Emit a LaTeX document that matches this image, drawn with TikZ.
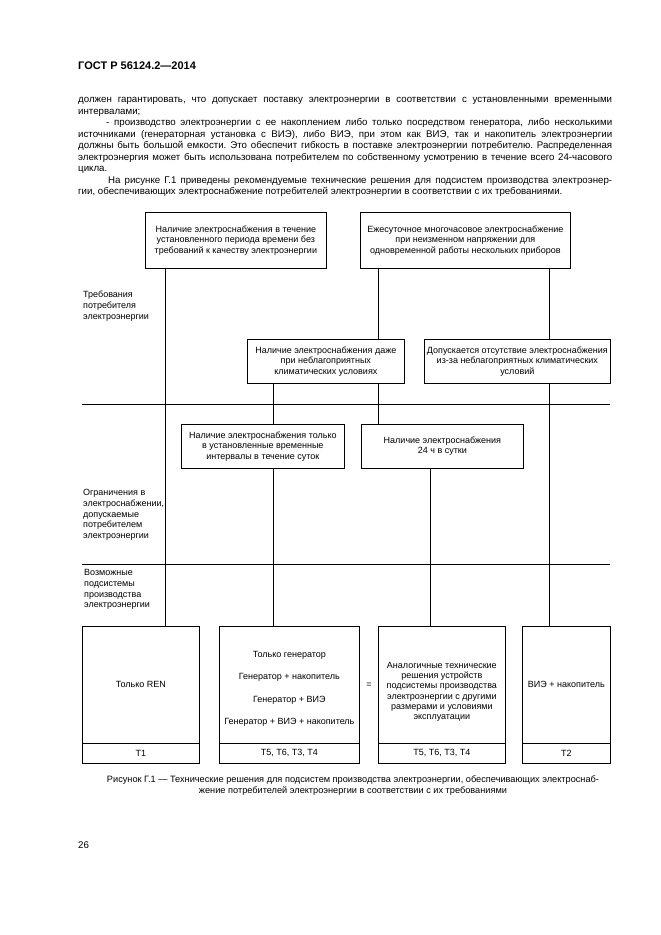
\documentclass[tikz,border=0pt]{standalone}
\usepackage{fontspec}
\setmainfont{Liberation Sans}
\newcommand\jl[1]{\hbox to 534pt{\frenchspacing\spaceskip=0.278em plus 1fil\relax #1}}
\newcommand\nl[1]{\hbox{#1}}
\begin{document}
\begin{tikzpicture}[x=1pt,y=-1pt,
  box/.style={draw, line width=0.7pt, fill=white, align=center, inner sep=0pt,
    font=\fontsize{9}{10.3}\selectfont},
  conn/.style={draw, line width=0.7pt},
  lbl/.style={anchor=north west, align=left, inner sep=0pt, font=\fontsize{9}{10.8}\selectfont}]
\useasboundingbox (0,0) rectangle (661,935);

% header and body text
\node[anchor=west, inner sep=0pt, font=\bfseries\fontsize{11}{12}\selectfont] (hdr) at (78,66) {ГОСТ Р 56124.2—2014};
\node[anchor=north west, inner sep=0pt, font=\fontsize{9.7}{11.45}\selectfont] (body) at (78,97.5) {\vbox{%
\jl{должен гарантировать, что допускает поставку электроэнергии в соответствии с установленными временными}
\nl{интервалами;}
\jl{\hspace{28pt}- производство электроэнергии с ее накоплением либо только посредством генератора, либо несколькими}
\jl{источниками (генераторная установка с ВИЭ), либо ВИЭ, при этом как ВИЭ, так и накопитель электроэнергии}
\jl{должны быть большой емкости. Это обеспечит гибкость в поставке электроэнергии потребителю. Распределенная}
\jl{электроэнергия может быть использована потребителем по собственному усмотрению в течение всего 24-часового}
\nl{цикла.}
\jl{\hspace{30pt}На рисунке Г.1 приведены рекомендуемые технические решения для подсистем производства электроэнер-}
\nl{гии, обеспечивающих электроснабжение потребителей электроэнергии в соответствии с их требованиями.}}};

% column x positions
\coordinate (c1) at (165,0);
\coordinate (c2) at (273,0);
\coordinate (c3) at (378,0);
\coordinate (c4) at (430,0);
\coordinate (c5) at (549,0);

% separators
\coordinate (h1a) at (82,404); \coordinate (h1b) at (610,404);
\coordinate (h2a) at (82,564); \coordinate (h2b) at (610,564);

% boxes
\node[box, anchor=north west, minimum width=181, minimum height=56] (b1) at (145,212)
  {Наличие электроснабжения в течение\\установленного периода времени без\\требований к качеству электроэнергии};
\node[box, anchor=north west, minimum width=210, minimum height=56] (b2) at (360,212)
  {Ежесуточное многочасовое электроснабжение\\при неизменном напряжении для\\одновременной работы нескольких приборов};
\node[box, anchor=north west, minimum width=157, minimum height=44] (b3) at (247,339)
  {Наличие электроснабжения даже\\при неблагоприятных\\климатических условиях};
\node[box, anchor=north west, minimum width=186, minimum height=44] (b4) at (424,339)
  {Допускается отсутствие электроснабжения\\из-за неблагоприятных климатических\\условий};
\node[box, anchor=north west, minimum width=163, minimum height=44] (b5) at (181,424)
  {Наличие электроснабжения только\\в установленные временные\\интервалы в течение суток};
\node[box, anchor=north west, minimum width=162, minimum height=44] (b6) at (361,424)
  {Наличие электроснабжения\\24 ч в сутки};

% bottom boxes
\node[box, anchor=north west, minimum width=117, minimum height=117] (bA) at (82,626) {Только REN};
\node[box, anchor=north west, minimum width=117, minimum height=20] (tA) at (82,743) {Т1};
\node[box, anchor=north west, minimum width=140, minimum height=117, font=\fontsize{9}{22.3}\selectfont] (bB) at (219,626)
  {\rule{0pt}{14pt}Только генератор\\Генератор + накопитель\\Генератор + ВИЭ\\Генератор + ВИЭ + накопитель};
\node[box, anchor=north west, minimum width=140, minimum height=20] (tB) at (219,743) {Т5, Т6, Т3, Т4};
\node[box, anchor=north west, minimum width=127, minimum height=117] (bC) at (378,626)
  {\rule{0pt}{20pt}Аналогичные технические\\решения устройств\\подсистемы производства\\электроэнергии с другими\\размерами и условиями\\эксплуатации};
\node[box, anchor=north west, minimum width=127, minimum height=20] (tC) at (378,743) {Т5, Т6, Т3, Т4};
\node[box, anchor=north west, minimum width=88, minimum height=117] (bD) at (522,626) {ВИЭ + накопитель};
\node[box, anchor=north west, minimum width=88, minimum height=20] (tD) at (522,743) {Т2};
\node[inner sep=0pt, font=\fontsize{9}{10}\selectfont] (eq) at (369,685) {=};

% row labels
\node[lbl] (l1) at (83,291) {Требования\\потребителя\\электроэнергии};
\node[lbl] (l2) at (83,489) {Ограничения в\\электроснабжении,\\допускаемые\\потребителем\\электроэнергии};
\node[lbl] (l3) at (84,569) {Возможные\\подсистемы\\производства\\электроэнергии};

% connectors
\path[conn] (h1a) -- (h1b);
\path[conn] (h2a) -- (h2b);
\path[conn] (b1.south -| c1) -- (bA.north -| c1);
\path[conn] (b2.south -| c3) -- (b3.north -| c3);
\path[conn] (b2.south -| c5) -- (b4.north -| c5);
\path[conn] (b3.south -| c2) -- (b5.north -| c2);
\path[conn] (b5.south -| c2) -- (bB.north -| c2);
\path[conn] (b3.south -| c3) -- (b6.north -| c3);
\path[conn] (b4.south -| c5) -- (bD.north -| c5);
\path[conn] (b6.south -| c4) -- (bC.north -| c4);

% caption and page number
\node[align=center, inner sep=0pt, font=\fontsize{9.2}{11}\selectfont] (cap) at (353,786)
  {Рисунок Г.1 — Технические решения для подсистем производства электроэнергии, обеспечивающих электроснаб-\\жение потребителей электроэнергии в соответствии с их требованиями};
\node[anchor=west, inner sep=0pt, font=\fontsize{9.7}{11}\selectfont] (pg) at (78,845) {26};
\end{tikzpicture}
\end{document}
